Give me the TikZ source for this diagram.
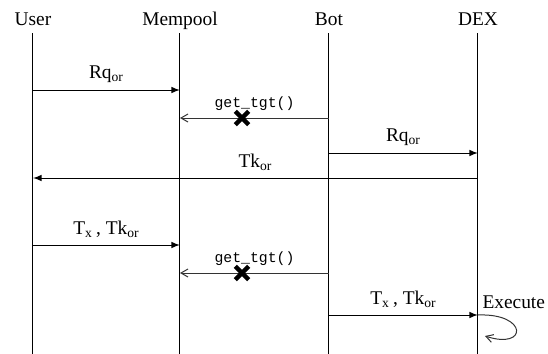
\documentclass[tikz,border=0pt]{standalone}
\usepackage{fontspec}
\setmainfont{Liberation Serif}
\setmonofont{Liberation Mono}
\usetikzlibrary{arrows.meta,shapes.misc}
\tikzset{
	every node/.style={font=\fontsize{9.7}{12}\selectfont},
	head/.style={inner sep=1.5pt,text height=1.6ex,text depth=0.5ex},
	blocked/.style={cross out,draw,line width=2.2pt,minimum size=4.5pt,inner sep=0pt},
	query/.style={-{Straight Barb[length=3.5pt,width=4pt]},black!80},
}
\newcommand{\tgt}{{\ttfamily\fontsize{7.4}{9}\selectfont get\_tgt()}}
\newcommand{\sub}[1]{\textsubscript{#1}}

\begin{document}
\begin{tikzpicture}[x=0.5pt,y=-0.5pt,>=latex,line width=0.5pt]
\useasboundingbox (0,0) rectangle (548,354);
\def\msg#1#2#3{
	\draw[->] #1 -- node[above] {#3} #2;
}
% lifelines
\node[head] (user) at (33,20) {User};
\node[head] (mem) at (180,20) {Mempool};
\node[head] (bot) at (329,20) {Bot};
\node[head] (dex) at (478,20) {DEX};
\coordinate (userE) at (33,354);
\coordinate (memE) at (180,354);
\coordinate (botE) at (329,354);
\coordinate (dexE) at (478,354);
\draw (user) -- (userE);
\draw (mem) -- (memE);
\draw (bot) -- (botE);
\draw (dex) -- (dexE);
% message points
\coordinate (u1) at (33,90);
\coordinate (m1) at (180,90);
\coordinate (b2) at (329,118);
\coordinate (m2) at (180,118);
\coordinate (b3) at (329,153);
\coordinate (d3) at (478,153);
\coordinate (d4) at (478,178);
\coordinate (u4) at (33,178);
\coordinate (u5) at (33,245);
\coordinate (m5) at (180,245);
\coordinate (b6) at (329,273);
\coordinate (m6) at (180,273);
\coordinate (b7) at (329,315);
\coordinate (d7) at (478,315);
\coordinate (loop) at (485,336);
% messages
\msg{(u1)}{(m1)}{Rq\sub{or}}
\draw[query] (b2) -- node[above,black] {\tgt} (m2);
\node[blocked] (x2) at (242,118) {};
\msg{(b3)}{(d3)}{Rq\sub{or}}
\msg{(d4)}{(u4)}{Tk\sub{or}}
\msg{(u5)}{(m5)}{T\sub{x}\,, Tk\sub{or}}
\draw[query] (b6) -- node[above,black] {\tgt} (m6);
\node[blocked] (x6) at (242,273) {};
\msg{(b7)}{(d7)}{T\sub{x}\,, Tk\sub{or}}
\draw[query] (d7) .. controls (528,313) and (528,350) .. (loop);
\node[anchor=base west,inner sep=0pt] (exec) at (482,308) {Execute};
\end{tikzpicture}
\end{document}
